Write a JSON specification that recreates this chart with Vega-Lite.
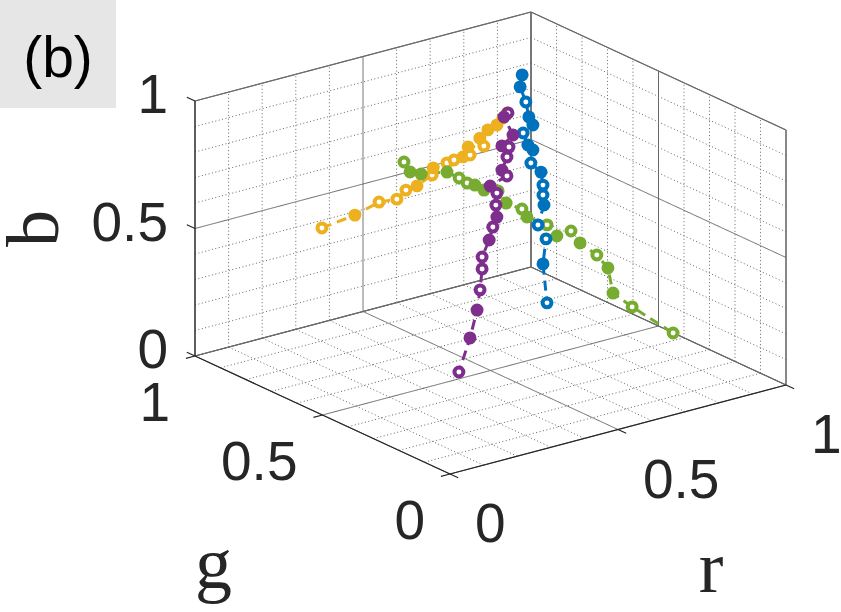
{
  "$schema": "https://vega.github.io/schema/vega-lite/v6.json",
  "width": 841,
  "height": 612,
  "padding": 0,
  "autosize": "none",
  "background": "white",
  "config": {"view": {"stroke": null}},
  "datasets": {
    "ticks": [
      {"v": 0, "major": true}, {"v": 0.1, "major": false}, {"v": 0.2, "major": false},
      {"v": 0.3, "major": false}, {"v": 0.4, "major": false}, {"v": 0.5, "major": true},
      {"v": 0.6, "major": false}, {"v": 0.7, "major": false}, {"v": 0.8, "major": false},
      {"v": 0.9, "major": false}, {"v": 1, "major": true}
    ],
    "edges": [
      {"kind": "box", "r1": 1, "g1": 1, "b1": 0, "r2": 1, "g2": 1, "b2": 1},
      {"kind": "box", "r1": 1, "g1": 0, "b1": 0, "r2": 1, "g2": 0, "b2": 1},
      {"kind": "box", "r1": 0, "g1": 1, "b1": 1, "r2": 1, "g2": 1, "b2": 1},
      {"kind": "box", "r1": 1, "g1": 0, "b1": 1, "r2": 1, "g2": 1, "b2": 1},
      {"kind": "box", "r1": 0, "g1": 1, "b1": 0, "r2": 1, "g2": 1, "b2": 0},
      {"kind": "box", "r1": 1, "g1": 0, "b1": 0, "r2": 1, "g2": 1, "b2": 0},
      {"kind": "axis", "r1": 0, "g1": 1, "b1": 0, "r2": 0, "g2": 1, "b2": 1},
      {"kind": "axis", "r1": 0, "g1": 0, "b1": 0, "r2": 1, "g2": 0, "b2": 0},
      {"kind": "axis", "r1": 0, "g1": 0, "b1": 0, "r2": 0, "g2": 1, "b2": 0}
    ],
    "axisticks": [
      {"axis": "b", "r": 0, "g": 1, "b": 0, "label": "0"},
      {"axis": "b", "r": 0, "g": 1, "b": 0.5, "label": "0.5"},
      {"axis": "b", "r": 0, "g": 1, "b": 1, "label": "1"},
      {"axis": "g", "r": 0, "g": 0, "b": 0, "label": "0"},
      {"axis": "g", "r": 0, "g": 0.5, "b": 0, "label": "0.5"},
      {"axis": "g", "r": 0, "g": 1, "b": 0, "label": "1"},
      {"axis": "r", "r": 0, "g": 0, "b": 0, "label": "0"},
      {"axis": "r", "r": 0.5, "g": 0, "b": 0, "label": "0.5"},
      {"axis": "r", "r": 1, "g": 0, "b": 0, "label": "1"}
    ],
    "titles": [
      {"axis": "b", "r": 0, "g": 1, "b": 0.5, "text": "b"},
      {"axis": "g", "r": 0, "g": 0.5, "b": 0, "text": "g"},
      {"axis": "r", "r": 0.5, "g": 0, "b": 0, "text": "r"}
    ],
    "points": [
      {"series": "yellow", "i": 1, "r": 0.226, "g": 0.8, "b": 0.516, "filled": false},
      {"series": "yellow", "i": 2, "r": 0.324, "g": 0.8, "b": 0.532, "filled": true},
      {"series": "yellow", "i": 3, "r": 0.396, "g": 0.8, "b": 0.558, "filled": false},
      {"series": "yellow", "i": 4, "r": 0.449, "g": 0.8, "b": 0.551, "filled": false},
      {"series": "yellow", "i": 5, "r": 0.476, "g": 0.8, "b": 0.577, "filled": false},
      {"series": "yellow", "i": 6, "r": 0.509, "g": 0.8, "b": 0.582, "filled": true},
      {"series": "yellow", "i": 7, "r": 0.554, "g": 0.8, "b": 0.609, "filled": false},
      {"series": "yellow", "i": 8, "r": 0.557, "g": 0.8, "b": 0.636, "filled": true},
      {"series": "yellow", "i": 9, "r": 0.598, "g": 0.8, "b": 0.641, "filled": false},
      {"series": "yellow", "i": 10, "r": 0.619, "g": 0.8, "b": 0.645, "filled": false},
      {"series": "yellow", "i": 11, "r": 0.646, "g": 0.8, "b": 0.648, "filled": true},
      {"series": "yellow", "i": 12, "r": 0.667, "g": 0.8, "b": 0.648, "filled": false},
      {"series": "yellow", "i": 13, "r": 0.661, "g": 0.8, "b": 0.682, "filled": true},
      {"series": "yellow", "i": 14, "r": 0.708, "g": 0.8, "b": 0.669, "filled": false},
      {"series": "yellow", "i": 15, "r": 0.696, "g": 0.8, "b": 0.704, "filled": true},
      {"series": "yellow", "i": 16, "r": 0.720, "g": 0.8, "b": 0.728, "filled": true},
      {"series": "yellow", "i": 17, "r": 0.747, "g": 0.8, "b": 0.738, "filled": true},
      {"series": "yellow", "i": 18, "r": 0.765, "g": 0.8, "b": 0.759, "filled": true},
      {"series": "yellow", "i": 19, "r": 0.777, "g": 0.8, "b": 0.774, "filled": false},
      {"series": "green", "i": 1, "r": 0.197, "g": 0.44, "b": 0.951, "filled": false},
      {"series": "green", "i": 2, "r": 0.215, "g": 0.44, "b": 0.906, "filled": true},
      {"series": "green", "i": 3, "r": 0.248, "g": 0.44, "b": 0.886, "filled": true},
      {"series": "green", "i": 4, "r": 0.325, "g": 0.44, "b": 0.867, "filled": true},
      {"series": "green", "i": 5, "r": 0.361, "g": 0.44, "b": 0.831, "filled": false},
      {"series": "green", "i": 6, "r": 0.385, "g": 0.44, "b": 0.803, "filled": false},
      {"series": "green", "i": 7, "r": 0.408, "g": 0.44, "b": 0.787, "filled": true},
      {"series": "green", "i": 8, "r": 0.435, "g": 0.44, "b": 0.758, "filled": true},
      {"series": "green", "i": 9, "r": 0.477, "g": 0.44, "b": 0.740, "filled": false},
      {"series": "green", "i": 10, "r": 0.501, "g": 0.44, "b": 0.684, "filled": true},
      {"series": "green", "i": 11, "r": 0.548, "g": 0.44, "b": 0.644, "filled": false},
      {"series": "green", "i": 12, "r": 0.563, "g": 0.44, "b": 0.608, "filled": true},
      {"series": "green", "i": 13, "r": 0.623, "g": 0.44, "b": 0.556, "filled": false},
      {"series": "green", "i": 14, "r": 0.652, "g": 0.44, "b": 0.502, "filled": true},
      {"series": "green", "i": 15, "r": 0.694, "g": 0.44, "b": 0.507, "filled": false},
      {"series": "green", "i": 16, "r": 0.721, "g": 0.44, "b": 0.451, "filled": true},
      {"series": "green", "i": 17, "r": 0.771, "g": 0.44, "b": 0.386, "filled": false},
      {"series": "green", "i": 18, "r": 0.804, "g": 0.44, "b": 0.324, "filled": true},
      {"series": "green", "i": 19, "r": 0.819, "g": 0.44, "b": 0.220, "filled": true},
      {"series": "green", "i": 20, "r": 0.876, "g": 0.44, "b": 0.146, "filled": false},
      {"series": "green", "i": 21, "r": 0.998, "g": 0.44, "b": 0.001, "filled": false},
      {"series": "blue", "i": 1, "r": 0.746, "g": 0.7, "b": 0.981, "filled": true},
      {"series": "blue", "i": 2, "r": 0.740, "g": 0.7, "b": 0.936, "filled": true},
      {"series": "blue", "i": 3, "r": 0.757, "g": 0.7, "b": 0.871, "filled": false},
      {"series": "blue", "i": 4, "r": 0.766, "g": 0.7, "b": 0.809, "filled": true},
      {"series": "blue", "i": 5, "r": 0.778, "g": 0.7, "b": 0.773, "filled": true},
      {"series": "blue", "i": 6, "r": 0.749, "g": 0.7, "b": 0.752, "filled": false},
      {"series": "blue", "i": 7, "r": 0.763, "g": 0.7, "b": 0.700, "filled": true},
      {"series": "blue", "i": 8, "r": 0.778, "g": 0.7, "b": 0.675, "filled": true},
      {"series": "blue", "i": 9, "r": 0.772, "g": 0.7, "b": 0.626, "filled": false},
      {"series": "blue", "i": 10, "r": 0.802, "g": 0.7, "b": 0.580, "filled": true},
      {"series": "blue", "i": 11, "r": 0.808, "g": 0.7, "b": 0.527, "filled": false},
      {"series": "blue", "i": 12, "r": 0.808, "g": 0.7, "b": 0.488, "filled": false},
      {"series": "blue", "i": 13, "r": 0.811, "g": 0.7, "b": 0.448, "filled": true},
      {"series": "blue", "i": 14, "r": 0.793, "g": 0.7, "b": 0.376, "filled": false},
      {"series": "blue", "i": 15, "r": 0.817, "g": 0.7, "b": 0.313, "filled": false},
      {"series": "blue", "i": 16, "r": 0.808, "g": 0.7, "b": 0.218, "filled": true},
      {"series": "blue", "i": 17, "r": 0.820, "g": 0.7, "b": 0.061, "filled": false},
      {"series": "purple", "i": 1, "r": 0.552, "g": 0.5, "b": 0.992, "filled": false},
      {"series": "purple", "i": 2, "r": 0.540, "g": 0.5, "b": 0.980, "filled": true},
      {"series": "purple", "i": 3, "r": 0.567, "g": 0.5, "b": 0.900, "filled": true},
      {"series": "purple", "i": 4, "r": 0.534, "g": 0.5, "b": 0.869, "filled": true},
      {"series": "purple", "i": 5, "r": 0.555, "g": 0.5, "b": 0.857, "filled": false},
      {"series": "purple", "i": 6, "r": 0.549, "g": 0.5, "b": 0.820, "filled": false},
      {"series": "purple", "i": 7, "r": 0.534, "g": 0.5, "b": 0.774, "filled": true},
      {"series": "purple", "i": 8, "r": 0.549, "g": 0.5, "b": 0.746, "filled": false},
      {"series": "purple", "i": 9, "r": 0.499, "g": 0.5, "b": 0.724, "filled": true},
      {"series": "purple", "i": 10, "r": 0.519, "g": 0.5, "b": 0.689, "filled": false},
      {"series": "purple", "i": 11, "r": 0.516, "g": 0.5, "b": 0.643, "filled": false},
      {"series": "purple", "i": 12, "r": 0.519, "g": 0.5, "b": 0.595, "filled": true},
      {"series": "purple", "i": 13, "r": 0.507, "g": 0.5, "b": 0.560, "filled": false},
      {"series": "purple", "i": 14, "r": 0.496, "g": 0.5, "b": 0.513, "filled": true},
      {"series": "purple", "i": 15, "r": 0.475, "g": 0.5, "b": 0.454, "filled": false},
      {"series": "purple", "i": 16, "r": 0.475, "g": 0.5, "b": 0.407, "filled": false},
      {"series": "purple", "i": 17, "r": 0.469, "g": 0.5, "b": 0.327, "filled": false},
      {"series": "purple", "i": 18, "r": 0.460, "g": 0.5, "b": 0.251, "filled": true},
      {"series": "purple", "i": 19, "r": 0.439, "g": 0.5, "b": 0.149, "filled": true},
      {"series": "purple", "i": 20, "r": 0.406, "g": 0.5, "b": 0.027, "filled": false}
    ]
  },
  "layer": [
    {
      "data": {"name": "ticks"},
      "transform": [
        {"calculate": "[[datum.v,1,0,datum.v,1,1],[0,1,datum.v,1,1,datum.v],[1,datum.v,0,1,datum.v,1],[1,0,datum.v,1,1,datum.v],[datum.v,0,0,datum.v,1,0],[0,datum.v,0,1,datum.v,0]]", "as": "seg"},
        {"flatten": ["seg"]},
        {"calculate": "336*datum.seg[0]-255*datum.seg[1]", "as": "px"},
        {"calculate": "89*datum.seg[0]+118*datum.seg[1]+255*datum.seg[2]", "as": "py"},
        {"calculate": "336*datum.seg[3]-255*datum.seg[4]", "as": "px2"},
        {"calculate": "89*datum.seg[3]+118*datum.seg[4]+255*datum.seg[5]", "as": "py2"}
      ],
      "mark": {"type": "rule", "stroke": "#666666", "strokeWidth": 1},
      "encoding": {
        "x": {"field": "px", "type": "quantitative", "scale": {"domain": [-450, 391], "nice": false, "zero": false}, "axis": null},
        "y": {"field": "py", "type": "quantitative", "scale": {"domain": [-138, 474], "nice": false, "zero": false}, "axis": null},
        "x2": {"field": "px2"},
        "y2": {"field": "py2"},
        "strokeDash": {"condition": {"test": "datum.major", "value": [1, 0]}, "value": [1, 2.5]}
      }
    },
    {
      "data": {"name": "edges"},
      "transform": [
        {"calculate": "336*datum.r1-255*datum.g1", "as": "px"},
        {"calculate": "89*datum.r1+118*datum.g1+255*datum.b1", "as": "py"},
        {"calculate": "336*datum.r2-255*datum.g2", "as": "px2"},
        {"calculate": "89*datum.r2+118*datum.g2+255*datum.b2", "as": "py2"}
      ],
      "mark": {"type": "rule", "strokeWidth": 1.2},
      "encoding": {
        "x": {"field": "px", "type": "quantitative", "scale": {"domain": [-450, 391], "nice": false, "zero": false}, "axis": null},
        "y": {"field": "py", "type": "quantitative", "scale": {"domain": [-138, 474], "nice": false, "zero": false}, "axis": null},
        "x2": {"field": "px2"},
        "y2": {"field": "py2"},
        "stroke": {"condition": {"test": "datum.kind == 'axis'", "value": "#262626"}, "value": "#6b6b6b"}
      }
    },
    {
      "data": {"name": "axisticks"},
      "transform": [
        {"calculate": "datum.axis == 'g' ? -0.027 : datum.r", "as": "r2"},
        {"calculate": "datum.axis == 'b' ? 1.032 : (datum.axis == 'r' ? -0.032 : datum.g)", "as": "g2"},
        {"calculate": "336*datum.r-255*datum.g", "as": "px"},
        {"calculate": "89*datum.r+118*datum.g+255*datum.b", "as": "py"},
        {"calculate": "336*datum.r2-255*datum.g2", "as": "px2"},
        {"calculate": "89*datum.r2+118*datum.g2+255*datum.b", "as": "py2"}
      ],
      "mark": {"type": "rule", "stroke": "#262626", "strokeWidth": 1.2},
      "encoding": {
        "x": {"field": "px", "type": "quantitative", "scale": {"domain": [-450, 391], "nice": false, "zero": false}, "axis": null},
        "y": {"field": "py", "type": "quantitative", "scale": {"domain": [-138, 474], "nice": false, "zero": false}, "axis": null},
        "x2": {"field": "px2"},
        "y2": {"field": "py2"}
      }
    },
    {
      "data": {"name": "points"},
      "transform": [
        {"calculate": "336*datum.r-255*datum.g", "as": "px"},
        {"calculate": "89*datum.r+118*datum.g+255*datum.b", "as": "py"}
      ],
      "mark": {"type": "line", "strokeDash": [10, 6], "strokeWidth": 3},
      "encoding": {
        "x": {"field": "px", "type": "quantitative", "scale": {"domain": [-450, 391], "nice": false, "zero": false}, "axis": null},
        "y": {"field": "py", "type": "quantitative", "scale": {"domain": [-138, 474], "nice": false, "zero": false}, "axis": null},
        "color": {"field": "series", "type": "nominal", "scale": {"domain": ["yellow", "green", "blue", "purple"], "range": ["#EDB120", "#77AC30", "#0072BD", "#7E2F8E"]}, "legend": null},
        "order": {"field": "i", "type": "quantitative"}
      }
    },
    {
      "data": {"name": "points"},
      "transform": [
        {"calculate": "336*datum.r-255*datum.g", "as": "px"},
        {"calculate": "89*datum.r+118*datum.g+255*datum.b", "as": "py"}
      ],
      "mark": {"type": "point", "shape": "circle", "size": 80, "strokeWidth": 4, "opacity": 1},
      "encoding": {
        "x": {"field": "px", "type": "quantitative", "scale": {"domain": [-450, 391], "nice": false, "zero": false}, "axis": null},
        "y": {"field": "py", "type": "quantitative", "scale": {"domain": [-138, 474], "nice": false, "zero": false}, "axis": null},
        "stroke": {"field": "series", "type": "nominal", "scale": {"domain": ["yellow", "green", "blue", "purple"], "range": ["#EDB120", "#77AC30", "#0072BD", "#7E2F8E"]}, "legend": null},
        "fill": {"condition": {"test": "datum.filled", "field": "series", "type": "nominal", "scale": {"domain": ["yellow", "green", "blue", "purple"], "range": ["#EDB120", "#77AC30", "#0072BD", "#7E2F8E"]}, "legend": null}, "value": "white"}
      }
    },
    {
      "data": {"name": "axisticks"},
      "transform": [
        {"filter": "datum.axis == 'b'"},
        {"calculate": "336*datum.r-255*datum.g", "as": "px"},
        {"calculate": "89*datum.r+118*datum.g+255*datum.b", "as": "py"}
      ],
      "mark": {"type": "text", "align": "right", "baseline": "alphabetic", "dx": -27, "dy": 12, "font": "Liberation Sans", "fontSize": 55, "color": "#262626"},
      "encoding": {
        "x": {"field": "px", "type": "quantitative", "scale": {"domain": [-450, 391], "nice": false, "zero": false}, "axis": null},
        "y": {"field": "py", "type": "quantitative", "scale": {"domain": [-138, 474], "nice": false, "zero": false}, "axis": null},
        "text": {"field": "label"}
      }
    },
    {
      "data": {"name": "axisticks"},
      "transform": [
        {"filter": "datum.axis == 'g'"},
        {"calculate": "336*datum.r-255*datum.g", "as": "px"},
        {"calculate": "89*datum.r+118*datum.g+255*datum.b", "as": "py"}
      ],
      "mark": {"type": "text", "align": "right", "baseline": "alphabetic", "dx": -25, "dy": 65, "font": "Liberation Sans", "fontSize": 55, "color": "#262626"},
      "encoding": {
        "x": {"field": "px", "type": "quantitative", "scale": {"domain": [-450, 391], "nice": false, "zero": false}, "axis": null},
        "y": {"field": "py", "type": "quantitative", "scale": {"domain": [-138, 474], "nice": false, "zero": false}, "axis": null},
        "text": {"field": "label"}
      }
    },
    {
      "data": {"name": "axisticks"},
      "transform": [
        {"filter": "datum.axis == 'r'"},
        {"calculate": "336*datum.r-255*datum.g", "as": "px"},
        {"calculate": "89*datum.r+118*datum.g+255*datum.b", "as": "py"}
      ],
      "mark": {"type": "text", "align": "left", "baseline": "alphabetic", "dx": 25, "dy": 68, "font": "Liberation Sans", "fontSize": 55, "color": "#262626"},
      "encoding": {
        "x": {"field": "px", "type": "quantitative", "scale": {"domain": [-450, 391], "nice": false, "zero": false}, "axis": null},
        "y": {"field": "py", "type": "quantitative", "scale": {"domain": [-138, 474], "nice": false, "zero": false}, "axis": null},
        "text": {"field": "label"}
      }
    },
    {
      "data": {"name": "titles"},
      "transform": [
        {"filter": "datum.axis == 'b'"},
        {"calculate": "336*datum.r-255*datum.g", "as": "px"},
        {"calculate": "89*datum.r+118*datum.g+255*datum.b", "as": "py"}
      ],
      "mark": {"type": "text", "align": "center", "baseline": "alphabetic", "angle": 270, "dy": -137, "font": "Liberation Serif", "fontSize": 74, "color": "#262626"},
      "encoding": {
        "x": {"field": "px", "type": "quantitative", "scale": {"domain": [-450, 391], "nice": false, "zero": false}, "axis": null},
        "y": {"field": "py", "type": "quantitative", "scale": {"domain": [-138, 474], "nice": false, "zero": false}, "axis": null},
        "text": {"field": "text"}
      }
    },
    {
      "data": {"name": "titles"},
      "transform": [
        {"filter": "datum.axis == 'g'"},
        {"calculate": "336*datum.r-255*datum.g", "as": "px"},
        {"calculate": "89*datum.r+118*datum.g+255*datum.b", "as": "py"}
      ],
      "mark": {"type": "text", "align": "center", "baseline": "alphabetic", "dx": -109, "dy": 173, "font": "Liberation Serif", "fontSize": 74, "color": "#262626"},
      "encoding": {
        "x": {"field": "px", "type": "quantitative", "scale": {"domain": [-450, 391], "nice": false, "zero": false}, "axis": null},
        "y": {"field": "py", "type": "quantitative", "scale": {"domain": [-138, 474], "nice": false, "zero": false}, "axis": null},
        "text": {"field": "text"}
      }
    },
    {
      "data": {"name": "titles"},
      "transform": [
        {"filter": "datum.axis == 'r'"},
        {"calculate": "336*datum.r-255*datum.g", "as": "px"},
        {"calculate": "89*datum.r+118*datum.g+255*datum.b", "as": "py"}
      ],
      "mark": {"type": "text", "align": "center", "baseline": "alphabetic", "dx": 93, "dy": 162, "font": "Liberation Serif", "fontSize": 74, "color": "#262626"},
      "encoding": {
        "x": {"field": "px", "type": "quantitative", "scale": {"domain": [-450, 391], "nice": false, "zero": false}, "axis": null},
        "y": {"field": "py", "type": "quantitative", "scale": {"domain": [-138, 474], "nice": false, "zero": false}, "axis": null},
        "text": {"field": "text"}
      }
    },
    {
      "data": {"values": [{"panel": "(b)"}]},
      "mark": {"type": "rect", "color": "#e6e6e6"},
      "encoding": {
        "x": {"datum": -450, "type": "quantitative", "scale": {"domain": [-450, 391], "nice": false, "zero": false}, "axis": null},
        "x2": {"datum": -334},
        "y": {"datum": 474, "type": "quantitative", "scale": {"domain": [-138, 474], "nice": false, "zero": false}, "axis": null},
        "y2": {"datum": 366}
      }
    },
    {
      "data": {"values": [{"panel": "(b)"}]},
      "mark": {"type": "text", "align": "center", "baseline": "alphabetic", "font": "Liberation Sans", "fontSize": 57, "color": "#000000"},
      "encoding": {
        "x": {"datum": -392, "type": "quantitative", "scale": {"domain": [-450, 391], "nice": false, "zero": false}, "axis": null},
        "y": {"datum": 397, "type": "quantitative", "scale": {"domain": [-138, 474], "nice": false, "zero": false}, "axis": null},
        "text": {"field": "panel"}
      }
    }
  ]
}
